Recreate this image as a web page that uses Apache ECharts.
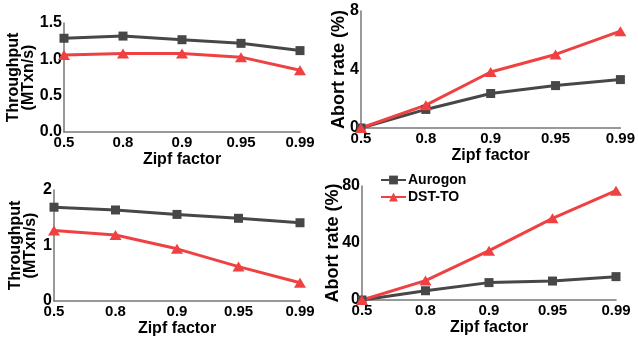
<!DOCTYPE html>
<html><head><meta charset="utf-8">
<script src="https://cdn.jsdelivr.net/npm/echarts@6/dist/echarts.min.js"></script>
<style>html,body{margin:0;padding:0;background:#fff}#c{width:638px;height:341px}</style>
</head><body><div id="c"></div>
<script>
const categories = ['0.5', '0.8', '0.9', '0.95', '0.99'];
const seriesNames = ['Aurogon', 'DST-TO'];
// top-left: throughput, workload A
const tputA_aurogon = [1.29, 1.32, 1.27, 1.22, 1.12];
const tputA_dst = [1.06, 1.08, 1.08, 1.03, 0.85];
// top-right: abort rate, workload A
const abortA_aurogon = [0, 1.27, 2.36, 2.9, 3.31];
const abortA_dst = [0, 1.56, 3.83, 5.03, 6.62];
// bottom-left: throughput, workload B
const tputB_aurogon = [1.69, 1.64, 1.56, 1.49, 1.41];
const tputB_dst = [1.27, 1.19, 0.94, 0.62, 0.33];
// bottom-right: abort rate, workload B
const abortB_aurogon = [0, 6.5, 12.2, 13.3, 16.4];
const abortB_dst = [0, 13.6, 34.6, 57.3, 76.7];

const FONT = '"Liberation Sans", Arial, sans-serif';
const C_AUR = '#474747';
const C_DST = '#ef4141';

const chart = echarts.init(document.getElementById('c'), null, {renderer: 'canvas'});

const grids = [
  {left: 64, right: 338, top: 23, bottom: 209},
  {left: 361, right: 17, top: 11, bottom: 213},
  {left: 54, right: 338, top: 190, bottom: 40},
  {left: 362, right: 22, top: 186, bottom: 41}
];
const yDefs = [
  {min: 0, max: 1.5, interval: 0.5, dec: 1, name: 'Throughput\n(MTxn/s)', nameSize: 16, nameGap: 28},
  {min: 0, max: 8, interval: 4, dec: 0, name: 'Abort rate (%)', nameSize: 18, nameGap: 14},
  {min: 0, max: 2, interval: 1, dec: 0, name: 'Throughput\n(MTxn/s)', nameSize: 16, nameGap: 16},
  {min: 0, max: 80, interval: 40, dec: 0, name: 'Abort rate (%)', nameSize: 18, nameGap: 21}
];
const data = [
  [tputA_aurogon, tputA_dst],
  [abortA_aurogon, abortA_dst],
  [tputB_aurogon, tputB_dst],
  [abortB_aurogon, abortB_dst]
];

const axisLine = {show: true, lineStyle: {color: '#777', width: 1.5}};

const option = {
  animation: false,
  backgroundColor: '#fff',
  textStyle: {fontFamily: FONT},
  grid: grids.map(g => Object.assign({containLabel: false}, g)),
  legend: {
    data: seriesNames,
    orient: 'vertical',
    left: 380, top: 173, padding: 0,
    itemWidth: 25, itemHeight: 11, itemGap: 3,
    textStyle: {fontFamily: FONT, fontWeight: 'bold', fontSize: 14, color: '#000', padding: [0, 0, 0, -3]}
  },
  xAxis: grids.map((g, i) => ({
    type: 'category', gridIndex: i, data: categories, boundaryGap: false,
    axisLine: axisLine, axisTick: {show: false},
    axisLabel: {fontFamily: FONT, fontWeight: 'bold', fontSize: 15, color: '#000', margin: 3},
    name: 'Zipf factor', nameLocation: 'middle', nameGap: 20, nameMoveOverlap: false,
    nameTextStyle: {fontFamily: FONT, fontWeight: 'bold', fontSize: 16, color: '#000'}
  })),
  yAxis: yDefs.map((d, i) => ({
    type: 'value', gridIndex: i, min: d.min, max: d.max, interval: d.interval,
    axisLine: axisLine, axisTick: {show: false}, splitLine: {show: false},
    axisLabel: {fontFamily: FONT, fontWeight: 'bold', fontSize: 16, color: '#000', margin: 2,
      padding: [0, 0, 8, 0], formatter: v => v.toFixed(d.dec)},
    name: d.name, nameLocation: 'middle', nameRotate: 90, nameGap: d.nameGap, nameMoveOverlap: false,
    nameTextStyle: {fontFamily: FONT, fontWeight: 'bold', fontSize: d.nameSize, color: '#000', lineHeight: 15}
  })),
  series: []
};

data.forEach((pair, i) => {
  option.series.push({
    name: seriesNames[0], type: 'line', xAxisIndex: i, yAxisIndex: i, data: pair[0],
    symbol: 'rect', symbolSize: 9, clip: false,
    lineStyle: {color: C_AUR, width: 3}, itemStyle: {color: C_AUR}
  });
  option.series.push({
    name: seriesNames[1], type: 'line', xAxisIndex: i, yAxisIndex: i, data: pair[1],
    symbol: 'triangle', symbolSize: [12, 10], clip: false,
    lineStyle: {color: C_DST, width: 3}, itemStyle: {color: C_DST}
  });
});

chart.setOption(option);
</script></body></html>
